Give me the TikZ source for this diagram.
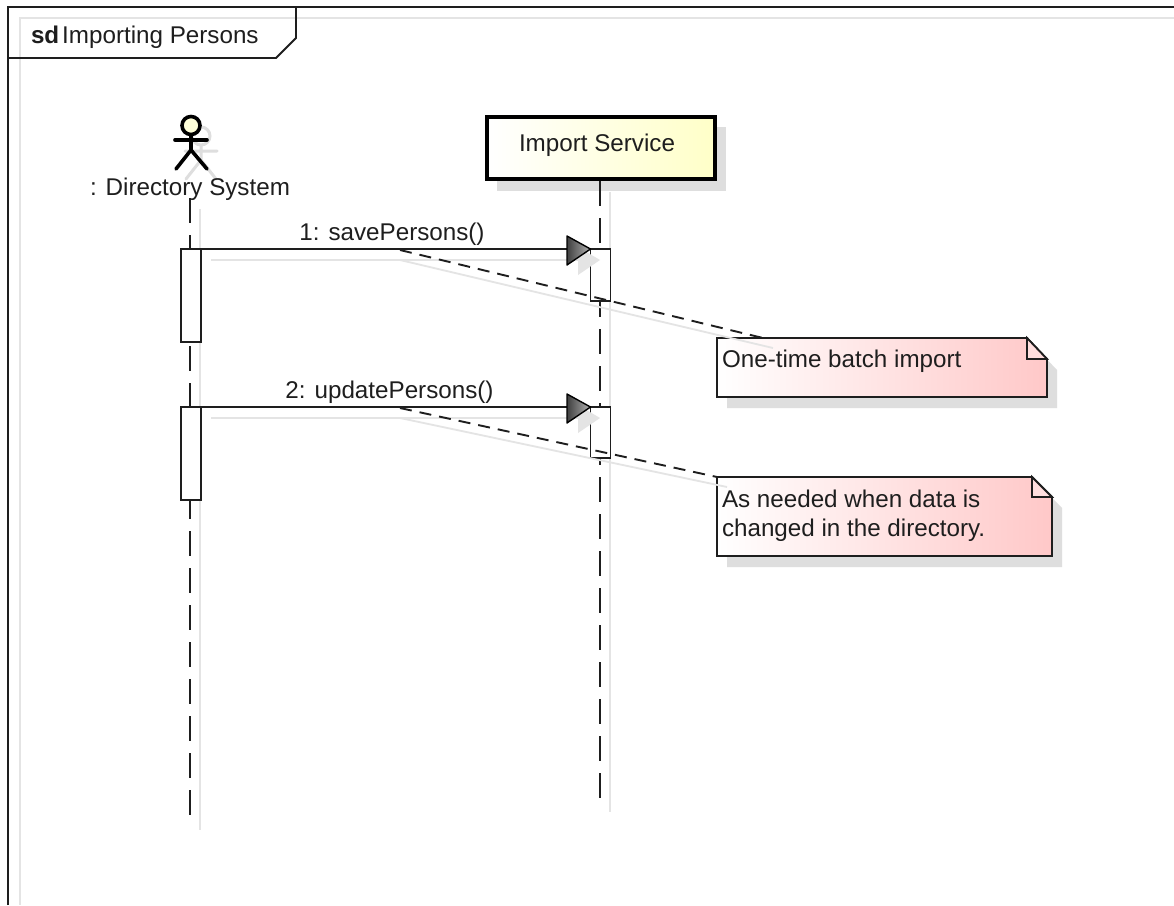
\documentclass[tikz,border=0pt]{standalone}
\usepackage{fontspec}
\setmainfont{Liberation Sans}
\usetikzlibrary{arrows.meta}
\definecolor{ink}{HTML}{1E1E1E}
\definecolor{shade}{HTML}{DEDEDE}
\definecolor{faint}{HTML}{E4E4E4}
\definecolor{notered}{HTML}{FFC8C8}
\definecolor{boxyellow}{HTML}{FFFFC8}
\tikzset{
  x=1pt,y=-1pt,
  framel/.style={draw=ink,line width=1.8pt},
  shadowl/.style={draw=faint,line width=2.2pt},
  shadowfill/.style={fill=shade,draw=none},
  lifeln/.style={draw=ink,line width=2pt,dash pattern=on 25pt off 12pt},
  lifesh/.style={draw=faint,line width=2.2pt},
  activation/.style={draw=ink,line width=1.6pt,fill=white,minimum width=20pt,inner sep=0pt,outer sep=0pt},
  msg/.style={draw=ink,line width=1.9pt},
  anchorl/.style={draw=ink,line width=1.9pt,dash pattern=on 12pt off 8pt},
  notebody/.style={draw=ink,line width=1.8pt,left color=white,right color=notered,shading angle=90,line join=miter},
  label/.style={text=ink,font=\fontsize{24.2}{29}\selectfont,inner sep=0pt,outer sep=0pt},
  notetext/.style={label,anchor=west},
  stick/.style={draw=black,line width=3.6pt,line cap=round},
  stickshadow/.style={draw=shade,line width=3pt,line cap=round},
  headtip/.style={draw=black,line width=1.4pt,left color=black!75,right color=black!30,line join=round}
}
\begin{document}
\begin{tikzpicture}
\useasboundingbox (0,0) rectangle (1174,905);
\fill[white] (0,0) rectangle (1174,905);
% frame shadow
\draw[shadowl] (20,905) -- (20,18) -- (1174,18);
% lifeline shadows
\draw[lifesh] (200,209) -- (200,830);
\draw[lifesh] (610,192) -- (610,812);
% actor shadow
\draw[stickshadow] (201,136) circle (9);
\draw[stickshadow] (201,145) -- (201,160) (185,151) -- (217,151) (201,160) -- (186,179) (201,160) -- (216,179);
% participant
\fill[shadowfill] (497,127) rectangle (726,191);
\node[draw=black,line width=4pt,left color=white,right color=boxyellow,shading angle=90,minimum width=228pt,minimum height=62pt,inner sep=0pt] (svc) at (601,148) {};
\node[label] (svclabel) at (597,145) {Import Service};
% actor
\node[circle,draw=black,line width=3.6pt,fill=boxyellow!70!white,minimum size=18pt,inner sep=0pt] (head) at (191,125.5) {};
\coordinate (hip) at (191,150);
\draw[stick] (head.south) -- (hip);
\draw[stick] (175,140) -- (207,140);
\draw[stick] (hip) -- (176,169);
\draw[stick] (hip) -- (207,169);
\node[label] (actorlabel) at (190,189) {: Directory System};
% lifelines
\coordinate (l1top) at (190,198);
\coordinate (l1bot) at (190,820);
\coordinate (l2bot) at (600,800);
\draw[lifeln] (l1top) -- (l1bot);
\draw[lifeln] (svc.south) ++(-1,0) -- (l2bot);
% activations
\node[activation,minimum height=93pt] (a1) at (191,295.5) {};
\node[activation,minimum height=93pt] (a2) at (191,453.5) {};
\node[activation,minimum height=52pt] (b1) at (600.5,275) {};
\node[activation,minimum height=51pt] (b2) at (600.5,432.5) {};
% message shadows
\draw[shadowl] (211,260) -- (578,260);
\draw[shadowl] (211,418) -- (578,418);
\fill[faint] (578,247) -- (600,260) -- (578,275) -- cycle;
\fill[faint] (578,405) -- (600,418) -- (578,433) -- cycle;
% messages
\draw[msg] (a1.north east) -- (b1.north west);
\draw[msg] (a2.north east) -- (b2.north west);
\draw[headtip] (567,236) -- (b1.north west) -- (567,265) -- cycle;
\draw[headtip] (567,394) -- (b2.north west) -- (567,423) -- cycle;
\node[label] (m1) at (392,234) {1: savePersons()};
\node[label] (m2) at (389.5,392) {2: updatePersons()};
% note shadows and bodies
\fill[shadowfill] (727,349) -- (1037,349) -- (1057,370) -- (1057,408) -- (727,408) -- cycle;
\fill[shadowfill] (727,488) -- (1042,488) -- (1062,508) -- (1062,567) -- (727,567) -- cycle;
\draw[notebody] (717,338) -- (1027,338) -- (1047,359) -- (1047,397) -- (717,397) -- cycle;
\draw[notebody] (717,477) -- (1032,477) -- (1052,497) -- (1052,556) -- (717,556) -- cycle;
\draw[line width=1.8pt,draw=ink,fill=notered!60!white] (1027,338) -- (1027,359) -- (1047,359) -- cycle;
\draw[line width=1.8pt,draw=ink,fill=notered!60!white] (1032,477) -- (1032,497) -- (1052,497) -- cycle;
\node[notetext] (n1text) at (722,361) {One-time batch import};
\node[notetext] (n2text) at (722,499) {As needed when data is};
\node[notetext] (n2textb) at (722,530) {changed in the directory.};
% note connectors
\coordinate (c1) at (400,250);
\coordinate (n1) at (763,338);
\coordinate (c2) at (400,408);
\coordinate (n2) at (717,477);
\draw[faint,line width=1.8pt] (400,260) -- (773,348);
\draw[faint,line width=1.8pt] (400,418) -- (727,487);
\draw[anchorl] (c1) -- (n1);
\draw[anchorl] (c2) -- (n2);
% frame
\draw[framel] (8,905) -- (8,7) -- (1174,7);
\draw[framel] (8,58) -- (276,58) -- (296,38) -- (296,7);
\node[label,anchor=west] (frametitle) at (31,37) {\textbf{sd}\hspace{3pt}Importing Persons};
\end{tikzpicture}
\end{document}
